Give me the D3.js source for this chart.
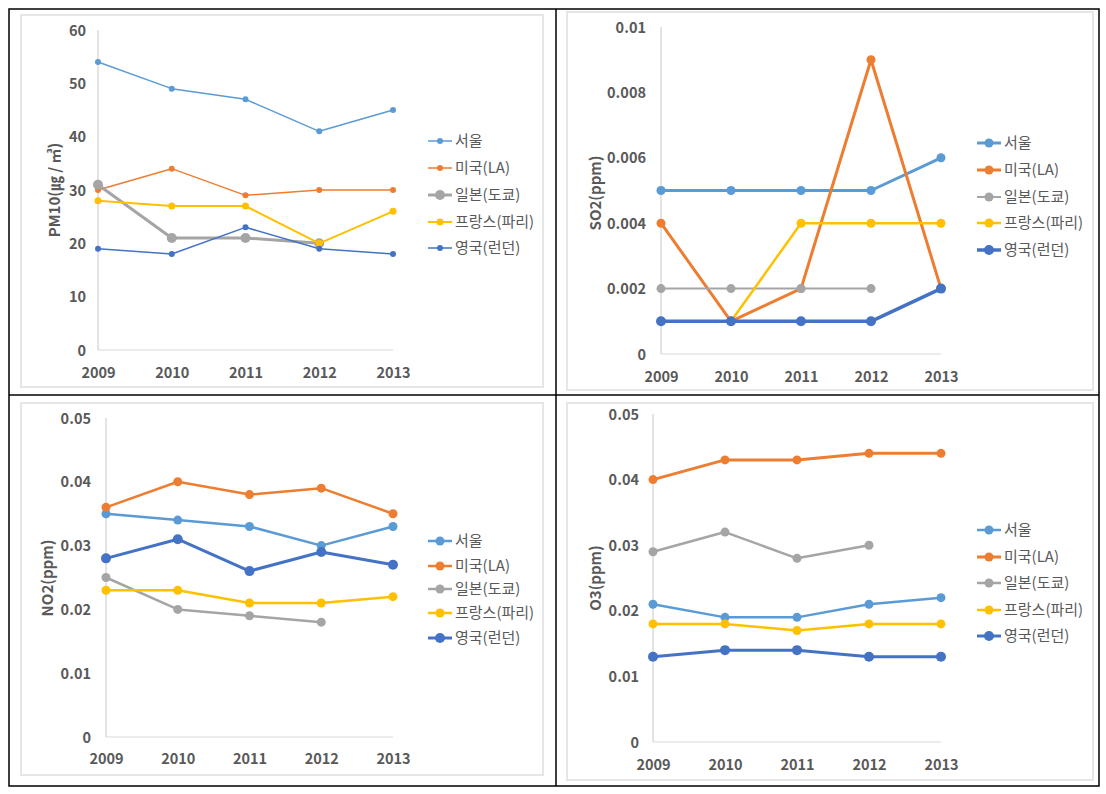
<!DOCTYPE html>
<html><head><meta charset="utf-8">
<script src="https://cdn.jsdelivr.net/npm/d3@7"></script>
<style>
body{margin:0;background:#fff;}
svg{display:block;}
text{font-family:"Noto Sans CJK KR","Noto Sans",sans-serif;}
</style></head>
<body><svg id="c" width="1106" height="794"></svg>
<script>
const years = [2009, 2010, 2011, 2012, 2013];
const cities = ["서울", "미국(LA)", "일본(도쿄)", "프랑스(파리)", "영국(런던)"];
const colors = ["#5B9BD5", "#ED7D31", "#A5A5A5", "#FFC000", "#4472C4"];

const pm10Seoul = [54, 49, 47, 41, 45];
const pm10LA = [30, 34, 29, 30, 30];
const pm10Tokyo = [31, 21, 21, 20, null];
const pm10Paris = [28, 27, 27, 20, 26];
const pm10London = [19, 18, 23, 19, 18];
const pm10Ticks = [0, 10, 20, 30, 40, 50, 60];

const so2Seoul = [0.005, 0.005, 0.005, 0.005, 0.006];
const so2LA = [0.004, 0.001, 0.002, 0.009, 0.002];
const so2Tokyo = [0.002, 0.002, 0.002, 0.002, null];
const so2Paris = [null, 0.001, 0.004, 0.004, 0.004];
const so2London = [0.001, 0.001, 0.001, 0.001, 0.002];
const so2Ticks = [0, 0.002, 0.004, 0.006, 0.008, 0.01];

const no2Seoul = [0.035, 0.034, 0.033, 0.030, 0.033];
const no2LA = [0.036, 0.040, 0.038, 0.039, 0.035];
const no2Tokyo = [0.025, 0.020, 0.019, 0.018, null];
const no2Paris = [0.023, 0.023, 0.021, 0.021, 0.022];
const no2London = [0.028, 0.031, 0.026, 0.029, 0.027];
const no2Ticks = [0, 0.01, 0.02, 0.03, 0.04, 0.05];

const o3Seoul = [0.021, 0.019, 0.019, 0.021, 0.022];
const o3LA = [0.040, 0.043, 0.043, 0.044, 0.044];
const o3Tokyo = [0.029, 0.032, 0.028, 0.030, null];
const o3Paris = [0.018, 0.018, 0.017, 0.018, 0.018];
const o3London = [0.013, 0.014, 0.014, 0.013, 0.013];
const o3Ticks = [0, 0.01, 0.02, 0.03, 0.04, 0.05];

const panels = [
  {label:"PM10(㎍ / ㎥)", series:[pm10Seoul,pm10LA,pm10Tokyo,pm10Paris,pm10London], ticks:pm10Ticks, max:60,
   frame:[21,15,543,387], x0:98, x1:393, yTop:30, yBot:350, tickRight:86, yearY:378, labelX:55, labelY:190,
   legX:428, legY:[141,168,195,222,248], widths:[1.5,1.5,3,2,1.5], radii:[3,3,5,3.5,3]},
  {label:"SO2(ppm)", series:[so2Seoul,so2LA,so2Tokyo,so2Paris,so2London], ticks:so2Ticks, max:0.01,
   frame:[567,12,1093,390], x0:661, x1:941, yTop:27, yBot:354, tickRight:646, yearY:382, labelX:596, labelY:193,
   legX:977, legY:[143,170,197,223,250], widths:[3,3,2,2.5,3.5], radii:[4.5,4.5,4.5,4.5,5]},
  {label:"NO2(ppm)", series:[no2Seoul,no2LA,no2Tokyo,no2Paris,no2London], ticks:no2Ticks, max:0.05,
   frame:[21,403,543,775], x0:106, x1:393, yTop:418, yBot:737, tickRight:91, yearY:764, labelX:48, labelY:578,
   legX:428, legY:[541,566,589,613,638], widths:[2.5,2.5,2.5,2.5,3], radii:[4.5,4.5,4.5,4.5,5]},
  {label:"O3(ppm)", series:[o3Seoul,o3LA,o3Tokyo,o3Paris,o3London], ticks:o3Ticks, max:0.05,
   frame:[567,403,1093,780], x0:653, x1:941, yTop:414, yBot:742, tickRight:639, yearY:770, labelX:596, labelY:578,
   legX:977, legY:[530,557,583,610,636], widths:[2.5,3,2.5,2.5,3], radii:[4.5,4.5,4.5,4.5,5]}
];

const svg = d3.select("#c");

panels.forEach(p => {
  const g = svg.append("g");
  g.append("rect").attr("x",p.frame[0]).attr("y",p.frame[1])
    .attr("width",p.frame[2]-p.frame[0]).attr("height",p.frame[3]-p.frame[1])
    .attr("fill","#fff").attr("stroke","#e6e6e6").attr("stroke-width",2);

  const x = d3.scalePoint().domain(years).range([p.x0, p.x1]);
  const y = d3.scaleLinear().domain([0, p.max]).range([p.yBot, p.yTop]);

  g.append("line").attr("x1",p.x0).attr("x2",p.x1).attr("y1",p.yBot).attr("y2",p.yBot)
    .attr("stroke","#d9d9d9").attr("stroke-width",1);

  const yAxis = d3.axisLeft(y).tickValues(p.ticks).tickSize(0).tickPadding(0)
    .tickFormat(d => d3.format("")(+d.toPrecision(6)));
  const ya = g.append("g").attr("transform",`translate(${p.tickRight},0)`).call(yAxis);
  ya.select(".domain").remove();
  ya.selectAll("text").attr("font-size",14.5).attr("font-weight","bold").attr("fill","#595959")
    .attr("dy","0.35em").attr("text-anchor","end");
  g.append("line").attr("x1",p.x0).attr("x2",p.x0).attr("y1",p.yTop).attr("y2",p.yBot)
    .attr("stroke","#c8c8c8").attr("stroke-width",1);

  const xAxis = d3.axisBottom(x).tickSize(0).tickPadding(0).tickFormat(d3.format("d"));
  const xa = g.append("g").attr("transform",`translate(0,${p.yearY})`).call(xAxis);
  xa.select(".domain").remove();
  xa.selectAll("text").attr("font-size",14.5).attr("font-weight","bold").attr("fill","#595959")
    .attr("dy","0em").attr("y",0);

  g.append("text").attr("transform",`translate(${p.labelX},${p.labelY}) rotate(-90)`)
    .attr("text-anchor","middle").attr("dy","0.35em").attr("font-size",15).attr("font-weight","bold")
    .attr("fill","#595959").text(p.label);

  p.series.forEach((vals, i) => {
    const pts = years.map((yr, j) => ({yr, v: vals[j]})).filter(d => d.v !== null);
    const line = d3.line().x(d => x(d.yr)).y(d => y(d.v));
    g.append("path").datum(pts).attr("d",line).attr("fill","none")
      .attr("stroke",colors[i]).attr("stroke-width",p.widths[i]).attr("stroke-linejoin","round");
    g.selectAll(null).data(pts).enter().append("circle")
      .attr("cx",d=>x(d.yr)).attr("cy",d=>y(d.v)).attr("r",p.radii[i]).attr("fill",colors[i]);
  });

  cities.forEach((c, i) => {
    const ly = p.legY[i];
    g.append("line").attr("x1",p.legX).attr("x2",p.legX+24).attr("y1",ly).attr("y2",ly)
      .attr("stroke",colors[i]).attr("stroke-width",p.widths[i]);
    g.append("circle").attr("cx",p.legX+12).attr("cy",ly).attr("r",p.radii[i]).attr("fill",colors[i]);
    g.append("text").attr("x",p.legX+27).attr("y",ly).attr("dy","0.35em").attr("font-size",15)
      .attr("fill","#595959").text(c);
  });
});

svg.append("rect").attr("x",9).attr("y",9).attr("width",1090).attr("height",777)
  .attr("fill","none").attr("stroke","#000").attr("stroke-width",1.5);
svg.append("line").attr("x1",556).attr("x2",556).attr("y1",9).attr("y2",786).attr("stroke","#000").attr("stroke-width",1.5);
svg.append("line").attr("x1",9).attr("x2",1099).attr("y1",395).attr("y2",395).attr("stroke","#000").attr("stroke-width",1.5);
</script></body></html>
